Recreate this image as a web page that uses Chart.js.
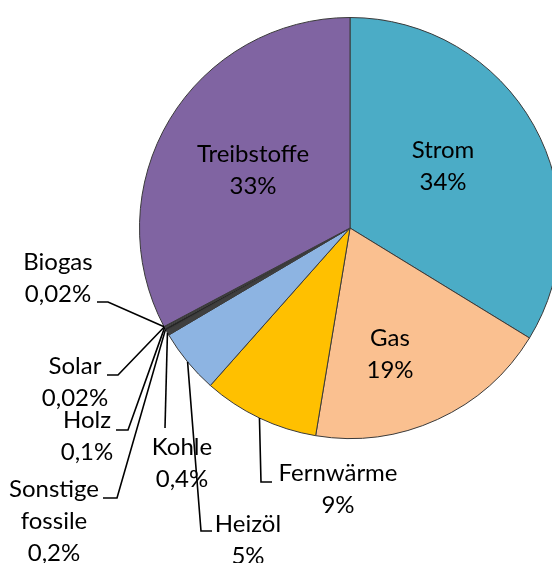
<!DOCTYPE html>
<html>
<head>
<meta charset="utf-8">
<script src="https://cdn.jsdelivr.net/npm/chart.js@4"></script>
<style>
  html, body { margin: 0; padding: 0; background: #fff; overflow: hidden; }
  .wrap { width: 552px; height: 563px; overflow: hidden; position: relative; }
  canvas { position: absolute; left: 0; top: 0; }
</style>
</head>
<body>
<div class="wrap">
  <canvas id="pieChart" width="700" height="563"></canvas>
</div>
<script>
// DATA
const categories = ['Strom', 'Gas', 'Fernwärme', 'Heizöl', 'Kohle', 'Sonstige fossile', 'Holz', 'Solar', 'Biogas', 'Treibstoffe']
const shares = [34, 19, 9, 5, 0.4, 0.2, 0.1, 0.02, 0.02, 33]
const shareLabels = ['34%', '19%', '9%', '5%', '0,4%', '0,2%', '0,1%', '0,02%', '0,02%', '33%']
const sliceColors = ['#4bacc6', '#fac090', '#ffc000', '#8db4e2', '#3f3f3f', '#262626', '#595959', '#0d0d0d', '#7f7f7f', '#8064a2']

// label layout: text centre x, first baseline y, optional leader (elbow + end)
const labelLayout = [
  { x: 443, y: 158 },
  { x: 390, y: 346 },
  { x: 338, y: 481, leader: [[261, 482], [272, 482]] },
  { x: 248, y: 532, leader: [[201, 531], [212, 531]] },
  { x: 182, y: 455, leader: [[165, 428]] },
  { x: 54, y: 497, leader: [[117, 498], [103, 498]] },
  { x: 87, y: 428, leader: [[128, 430], [116, 430]] },
  { x: 75, y: 374, leader: [[118, 375], [107, 375]] },
  { x: 58, y: 270, leader: [[108, 302], [97, 302]] },
  { x: 253, y: 162 }
]

const lineGap = 32

// draws labels + leader lines from the slice's outer edge
const pieLabels = {
  id: 'pieLabels',
  afterDatasetsDraw(chart) {
    const ctx = chart.ctx
    const arcs = chart.getDatasetMeta(0).data
    ctx.save()
    ctx.font = '24px Lato, "Liberation Sans", sans-serif'
    ctx.fillStyle = '#000'
    ctx.strokeStyle = '#000'
    ctx.lineWidth = 1.6
    ctx.textAlign = 'center'
    ctx.textBaseline = 'alphabetic'

    arcs.forEach((arc, i) => {
      const lay = labelLayout[i]
      if (lay.leader) {
        const p = arc.getProps(['x', 'y', 'startAngle', 'endAngle', 'outerRadius'], true)
        const mid = (p.startAngle + p.endAngle) / 2
        ctx.beginPath()
        ctx.moveTo(p.x + Math.cos(mid) * p.outerRadius, p.y + Math.sin(mid) * p.outerRadius)
        lay.leader.forEach(pt => ctx.lineTo(pt[0], pt[1]))
        ctx.stroke()
      }
      let lines = categories[i] === 'Sonstige fossile' ? ['Sonstige', 'fossile'] : [categories[i]]
      lines = lines.concat([shareLabels[i]])
      lines.forEach((t, k) => ctx.fillText(t, lay.x, lay.y + k * lineGap))
    })
    ctx.restore()
  }
}

new Chart(document.getElementById('pieChart').getContext('2d'), {
  type: 'pie',
  data: {
    labels: categories,
    datasets: [{
      data: shares,
      backgroundColor: sliceColors,
      borderColor: '#3a3a3a',
      borderWidth: 1
    }]
  },
  options: {
    responsive: false,
    animation: false,
    layout: {
      padding: { left: 139, right: 139, top: 17, bottom: 124 }
    },
    plugins: {
      legend: { display: false },
      tooltip: { enabled: false }
    }
  },
  plugins: [pieLabels]
})
</script>
</body>
</html>
